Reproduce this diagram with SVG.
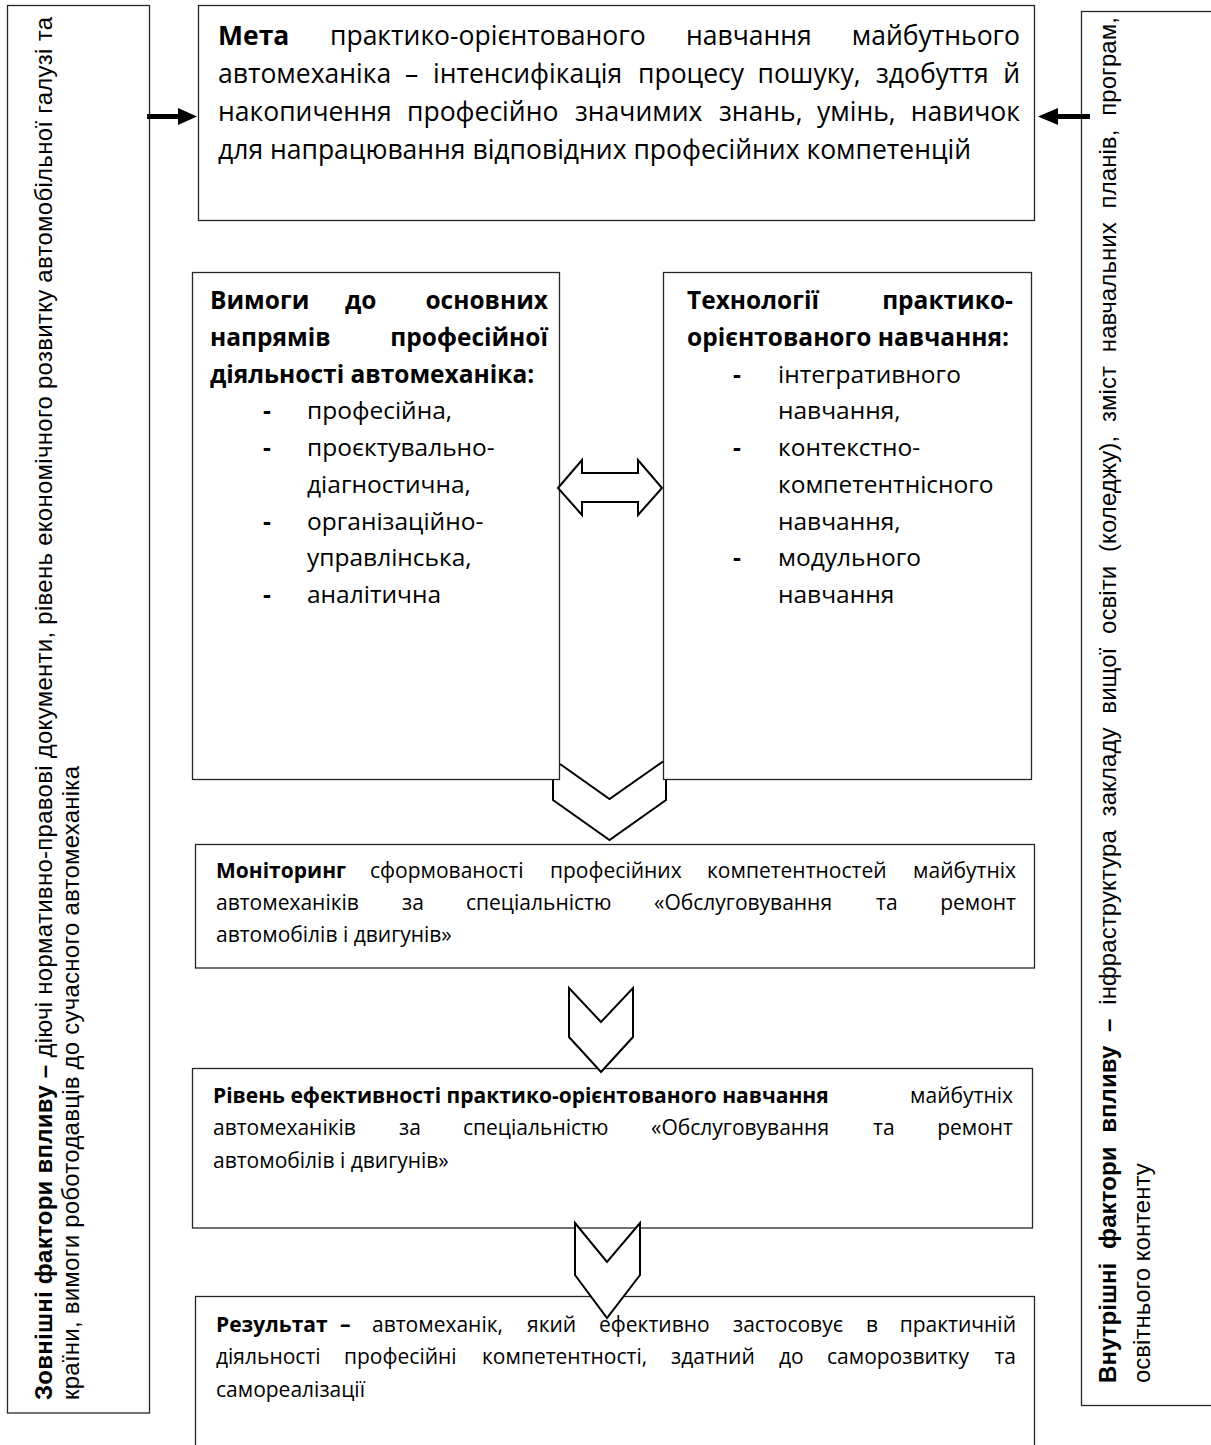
<svg xmlns="http://www.w3.org/2000/svg" width="1211" height="1445" viewBox="0 0 1211 1445">
<style>
.box{fill:#fff;stroke:#262626;stroke-width:1.3}
.t{font-family:"Open Sans","Noto Sans",sans-serif;fill:#000}
.m{font-size:26.5px}
.n{font-size:24.5px}
.w{font-size:21px}
.side{font-family:"Liberation Sans",Arial,sans-serif;font-size:24px;fill:#000}
.b{font-weight:bold}
.e{text-anchor:end}
.blk{fill:#fff;stroke:#000;stroke-width:2;stroke-linejoin:miter}
.ln{fill:none;stroke:#000;stroke-width:2}
</style>
<rect width="1211" height="1445" fill="#fff"/>

<g id="external-factors">
<rect class="box" x="7.5" y="5.5" width="142" height="1407.5"/>
<text class="side" transform="translate(52,1400) rotate(-90)" textLength="1383" lengthAdjust="spacing"><tspan class="b">Зовнішні фактори впливу –</tspan> діючі нормативно-правові документи, рівень економічного розвитку автомобільної галузі та</text>
<text class="side" transform="translate(79,1400) rotate(-90)" textLength="634" lengthAdjust="spacing">країни, вимоги роботодавців до сучасного автомеханіка</text>
</g>

<g id="internal-factors">
<rect class="box" x="1081.5" y="11.5" width="140" height="1394"/>
<text class="side" transform="translate(1116,1383) rotate(-90)" word-spacing="7" textLength="1366" lengthAdjust="spacing"><tspan class="b">Внутрішні фактори впливу –</tspan> інфраструктура закладу вищої освіти (коледжу), зміст навчальних планів, програм,</text>
<text class="side" transform="translate(1150,1383) rotate(-90)">освітнього контенту</text>
</g>

<g id="goal">
<rect class="box" x="198.5" y="5.5" width="836" height="215"/>
<text class="t m" y="45"><tspan x="218" class="b">Мета</tspan><tspan x="330">практико-орієнтованого</tspan><tspan x="686">навчання</tspan><tspan x="1020" class="e">майбутнього</tspan></text>
<text class="t m" y="83"><tspan x="218">автомеханіка</tspan><tspan x="405">–</tspan><tspan x="433">інтенсифікація</tspan><tspan x="638">процесу</tspan><tspan x="757.5">пошуку,</tspan><tspan x="876">здобуття</tspan><tspan x="1020" class="e">й</tspan></text>
<text class="t m" y="121"><tspan x="218">накопичення</tspan><tspan x="407">професійно</tspan><tspan x="575">значимих</tspan><tspan x="719">знань,</tspan><tspan x="817">умінь,</tspan><tspan x="1020" class="e">навичок</tspan></text>
<text class="t m" x="218" y="159">для напрацювання відповідних професійних компетенцій</text>
</g>

<g id="requirements">
<rect class="box" x="192.5" y="272.5" width="367" height="507"/>
<text class="t n b" y="309"><tspan x="210">Вимоги</tspan><tspan x="345">до</tspan><tspan x="548" class="e">основних</tspan></text>
<text class="t n b" y="345.75"><tspan x="210">напрямів</tspan><tspan x="548" class="e">професійної</tspan></text>
<text class="t n b" x="210" y="382.5">діяльності автомеханіка:</text>
<text class="t n b" x="263" y="419.25">-</text>
<text class="t n" x="307" y="419.25">професійна,</text>
<text class="t n b" x="263" y="456">-</text>
<text class="t n" x="307" y="456">проєктувально-</text>
<text class="t n" x="307" y="492.75">діагностична,</text>
<text class="t n b" x="263" y="529.5">-</text>
<text class="t n" x="307" y="529.5">організаційно-</text>
<text class="t n" x="307" y="566.25">управлінська,</text>
<text class="t n b" x="263" y="603">-</text>
<text class="t n" x="307" y="603">аналітична</text>
</g>

<g id="technologies">
<rect class="box" x="663.5" y="272.5" width="368" height="507"/>
<text class="t n b" y="309"><tspan x="687">Технології</tspan><tspan x="1013" class="e">практико-</tspan></text>
<text class="t n b" x="687" y="345.75">орієнтованого навчання:</text>
<text class="t n b" x="733" y="382.5">-</text>
<text class="t n" x="778" y="382.5">інтегративного</text>
<text class="t n" x="778" y="419.25">навчання,</text>
<text class="t n b" x="733" y="456">-</text>
<text class="t n" x="778" y="456">контекстно-</text>
<text class="t n" x="778" y="492.75">компетентнісного</text>
<text class="t n" x="778" y="529.5">навчання,</text>
<text class="t n b" x="733" y="566.25">-</text>
<text class="t n" x="778" y="566.25">модульного</text>
<text class="t n" x="778" y="603">навчання</text>
</g>

<g id="monitoring">
<rect class="box" x="195.5" y="844.5" width="839" height="123.5"/>
<text class="t w" y="878"><tspan x="216" class="b">Моніторинг</tspan><tspan x="370">сформованості</tspan><tspan x="550">професійних</tspan><tspan x="707">компетентностей</tspan><tspan x="1016" class="e">майбутніх</tspan></text>
<text class="t w" y="910"><tspan x="216">автомеханіків</tspan><tspan x="402">за</tspan><tspan x="466">спеціальністю</tspan><tspan x="654">«Обслуговування</tspan><tspan x="876">та</tspan><tspan x="1016" class="e">ремонт</tspan></text>
<text class="t w" x="216" y="942">автомобілів і двигунів»</text>
</g>

<g id="efficiency">
<rect class="box" x="192.5" y="1068.5" width="840" height="159.5"/>
<text class="t w" y="1103"><tspan x="213" class="b">Рівень ефективності практико-орієнтованого навчання</tspan><tspan x="1013" class="e">майбутніх</tspan></text>
<text class="t w" y="1135"><tspan x="213">автомеханіків</tspan><tspan x="399">за</tspan><tspan x="463">спеціальністю</tspan><tspan x="651">«Обслуговування</tspan><tspan x="873">та</tspan><tspan x="1013" class="e">ремонт</tspan></text>
<text class="t w" x="213" y="1168">автомобілів і двигунів»</text>
</g>

<g id="result">
<rect class="box" x="195.5" y="1296.5" width="839" height="170"/>
<text class="t w" y="1332"><tspan x="216" class="b">Результат</tspan><tspan x="340" class="b">–</tspan><tspan x="372">автомеханік,</tspan><tspan x="527">який</tspan><tspan x="599">ефективно</tspan><tspan x="733">застосовує</tspan><tspan x="866">в</tspan><tspan x="1016" class="e">практичній</tspan></text>
<text class="t w" y="1364"><tspan x="216">діяльності</tspan><tspan x="344">професійні</tspan><tspan x="482">компетентності,</tspan><tspan x="671">здатний</tspan><tspan x="779">до</tspan><tspan x="827">саморозвитку</tspan><tspan x="1016" class="e">та</tspan></text>
<text class="t w" x="216" y="1397">самореалізації</text>
</g>

<g id="connectors">
<g id="arrow-external">
<line x1="147" y1="116.5" x2="180" y2="116.5" stroke="#000" stroke-width="5"/>
<polygon points="178,108 197,116.5 178,125" fill="#000"/>
</g>
<g id="arrow-internal">
<line x1="1090" y1="116.5" x2="1056" y2="116.5" stroke="#000" stroke-width="5"/>
<polygon points="1058,108 1038,116.5 1058,125" fill="#000"/>
</g>
<polygon id="double-arrow" class="blk" stroke-width="1.5" points="558,488 582,460 582,473 638,473 638,460 662,488 638,515 638,502 582,502 582,515"/>
<path id="chevron-1" class="ln" d="M553,780 V800 L609.5,840 L666,800 V780 M560,764 L609.5,799 L663,761.5"/>
<polygon id="chevron-2" class="blk" points="569,988 601,1022 633,988 633,1037 601,1072 569,1037"/>
<polygon id="chevron-3" class="blk" points="575,1223 607,1262 640,1223 640,1275 607,1318 575,1275"/>
</g>
</svg>
